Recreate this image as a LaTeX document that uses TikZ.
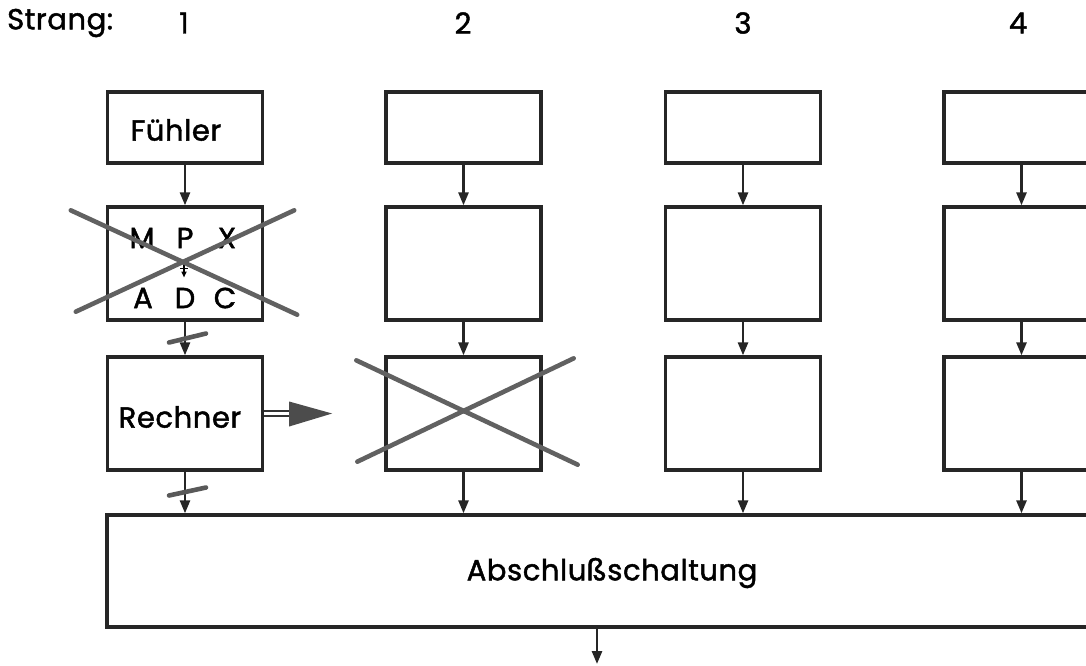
\documentclass[tikz,border=0pt]{standalone}
\usepackage{fontspec}
\setmainfont{Poppins}
\newfontfamily\lfont{Poppins}[FakeBold=1.6, LetterSpace=2]
\usetikzlibrary{arrows.meta,calc}
\begin{document}
\begin{tikzpicture}[x=1pt,y=-1pt,
  box/.style={draw=black!85, line width=3.3pt, fill=white, minimum width=155pt, inner sep=0pt},
  low/.style={box, minimum height=71pt},
  tall/.style={box, minimum height=113pt},
  conn/.style={line width=2.6pt, draw=black!85, -{Triangle[length=13pt,width=10pt]}},
  xline/.style={line width=4.6pt, draw=black!62, line cap=round},
  slash/.style={line width=4.6pt, draw=black!65, line cap=round},
  lab/.style={font=\lfont\fontsize{29}{32}\selectfont, inner sep=0pt}]
\useasboundingbox (0,0) rectangle (1086,665);
\clip (0,0) rectangle (1086,665);

% header
\node[lab, anchor=west] (strang) at (7,23) {Strang:};
\node[lab] (n1) at (184,23) {1};
\node[lab] (n2) at (463,23) {2};
\node[lab] (n3) at (743,23) {3};
\node[lab] (n4) at (1018,23) {4};

% column 1
\node[low] (f1) at (185,127.5) {};
\node[lab] (fuehler) at (176,130) {Fühler};
\node[tall] (mpx) at (185,263.5) {};
\node[tall] (rech) at (185,413.5) {};
\node[lab] (rechner) at (180,417) {Rechner};

% columns 2-4
\node[low] (a2) at (463.5,127.5) {};
\node[tall] (b2) at (463.5,263.5) {};
\node[tall] (c2) at (463.5,413.5) {};
\node[low] (a3) at (743,127.5) {};
\node[tall] (b3) at (743,263.5) {};
\node[tall] (c3) at (743,413.5) {};
\node[low] (a4) at (1021.5,127.5) {};
\node[tall] (b4) at (1021.5,263.5) {};
\node[tall] (c4) at (1021.5,413.5) {};

% bottom box
\node[box, minimum width=1003pt, minimum height=112pt] (bot) at (608.5,571) {};
\node[lab] (abs) at (612,573) {Abschlußschaltung};
\coordinate (out) at (597,664);

% MPX letters
\node[lab] (lm) at (142,238) {M};
\node[lab] (lp) at (185,238) {P};
\node[lab] (lx) at (227,238) {X};
\node[lab] (la) at (143,298) {A};
\node[lab] (ld) at (185,298) {D};
\node[lab] (lc) at (225,298) {C};
\draw[line width=1.6pt, -{Triangle[length=6pt,width=5pt]}] ($(mpx.center)+(-1,-2)$) -- ($(mpx.center)+(-1,14)$);
\draw[line width=1.6pt] ($(mpx.center)+(-5,5)$) -- ($(mpx.center)+(3,5)$);

% crosses
\draw[xline] ($(mpx.north west)+(-35,5)$) -- ($(mpx.south east)+(33,-7)$);
\draw[xline] ($(mpx.south west)+(-30,-10)$) -- ($(mpx.north east)+(30,5)$);
\draw[xline] ($(c2.north west)+(-28,5)$) -- ($(c2.south east)+(35,-7)$);
\draw[xline] ($(c2.south west)+(-27,-10)$) -- ($(c2.north east)+(31,3)$);

% connectors
\draw[conn] (f1.south) -- (mpx.north);
\draw[conn] (mpx.south) -- (rech.north);
\draw[conn] (rech.south) -- (rech.south |- bot.north);
\foreach \c in {2,3,4}{
  \draw[conn] (a\c.south) -- (b\c.north);
  \draw[conn] (b\c.south) -- (c\c.north);
  \draw[conn] (c\c.south) -- (c\c.south |- bot.north);
}
\draw[conn] (bot.south -| out) -- (out);

% break marks
\draw[slash] ($(mpx.south)!0.5!(rech.north)+(-16,4)$) -- ($(mpx.south)!0.5!(rech.north)+(21,-5)$);
\draw[slash] ($(rech.south)!0.5!(rech.south |- bot.north)+(-16,3)$) -- ($(rech.south)!0.5!(rech.south |- bot.north)+(21,-5)$);

% double arrow Rechner -> column 2
\draw[line width=2.2pt, draw=black!80, double=white, double distance=3.5pt] (rech.east) -- ++(26,0) coordinate (dh);
\fill[black!70] ($(dh)+(-1,-12)$) -- ($(dh)+(42,0)$) -- ($(dh)+(-1,13)$) -- cycle;
\end{tikzpicture}
\end{document}
